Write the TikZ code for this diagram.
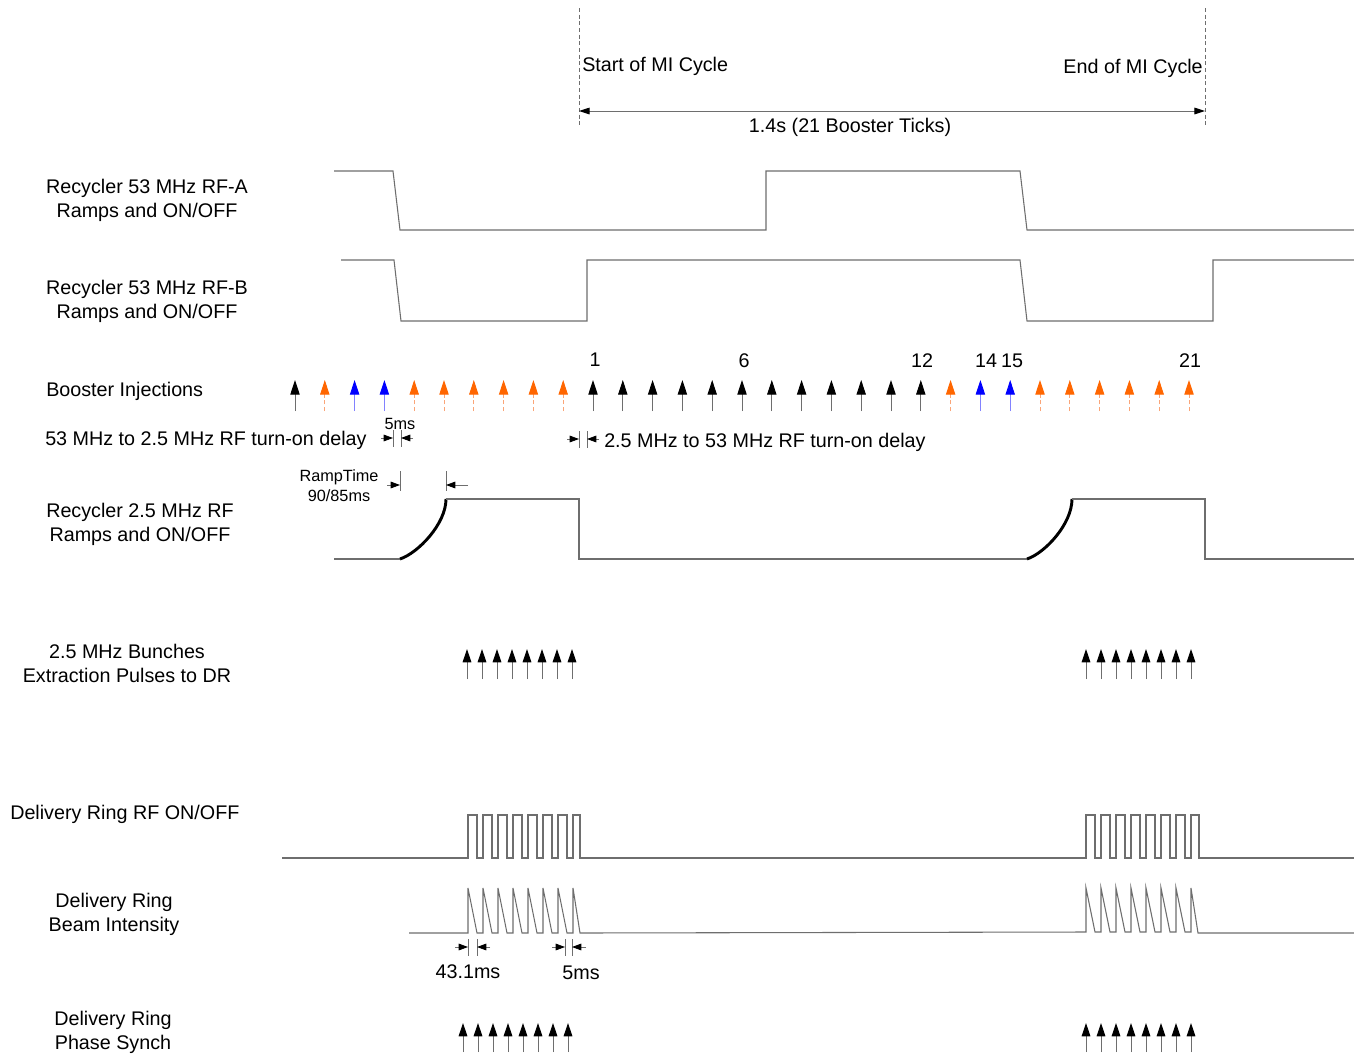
\documentclass[tikz,border=0pt]{standalone}
\usepackage{fontspec}
\setmainfont{Liberation Sans}
\usetikzlibrary{arrows.meta}
\definecolor{wavec}{RGB}{110,110,110}
\definecolor{inorange}{RGB}{255,102,0}
\definecolor{inorangel}{RGB}{250,165,120}
\definecolor{inblue}{RGB}{0,0,255}
\definecolor{inbluel}{RGB}{130,130,255}
\begin{document}
\begin{tikzpicture}[x=0.75pt,y=-0.75pt,
  lbl/.style={font=\fontsize{14.8}{18}\selectfont, align=center, inner sep=0pt, yshift=-1.5pt},
  sml/.style={font=\fontsize{12.2}{15}\selectfont, align=center, inner sep=0pt, yshift=-1pt},
  wave/.style={draw=wavec, line width=0.8pt},
  ramp/.style={draw=black, line width=2.2pt},
  guide/.style={draw=wavec, line width=0.6pt, dash pattern=on 3pt off 2pt},
  injk/.style={draw=wavec, line width=0.7pt, -{Triangle[black,length=11pt,width=7pt]}},
  injo/.style={draw=inorangel, line width=0.7pt, dash pattern=on 3pt off 2pt, -{Triangle[inorange,length=11pt,width=7pt,sep=0pt]}},
  injb/.style={draw=inbluel, line width=0.7pt, -{Triangle[inblue,length=11pt,width=7pt]}},
  pulsearr/.style={draw=wavec, line width=0.7pt, -{Triangle[black,length=10pt,width=6.5pt]}},
  dimarr/.style={draw=wavec, line width=0.6pt, -{Triangle[black,length=7pt,width=5pt]}},
  dimtick/.style={draw=wavec, line width=0.5pt}]
\useasboundingbox[fill=white] (0,0) rectangle (1354,1054);

% ---- MI cycle markers
\draw[guide] (579,8) coordinate (s0) -- (579,125) coordinate (s1);
\draw[guide] (1205,8) coordinate (e0) -- (1205,125) coordinate (e1);
\coordinate (ca) at (579,111);
\coordinate (cb) at (1205,111);
\draw[wave, line width=0.7pt, {Triangle[black,length=8pt,width=5pt]}-{Triangle[black,length=8pt,width=5pt]}] (ca) -- (cb);
\node[lbl, anchor=west] (start) at (582,64) {Start of MI Cycle};
\node[lbl, anchor=east] (end) at (1203,66) {End of MI Cycle};
\node[lbl] (dur) at (850,125) {1.4s (21 Booster Ticks)};

% ---- RF-A
\node[lbl] (rfa) at (147,198) {Recycler 53 MHz RF-A\\Ramps and ON/OFF};
\draw[wave] (334,171) -- (393,171) -- (400,230) -- (766,230) -- (766,171) -- (1020,171) -- (1027,230) -- (1354,230);

% ---- RF-B
\node[lbl] (rfb) at (147,299) {Recycler 53 MHz RF-B\\Ramps and ON/OFF};
\draw[wave] (341,260) -- (394,260) -- (401,321) -- (587,321) -- (587,260) -- (1020,260) -- (1027,321) -- (1213,321) -- (1213,260) -- (1354,260);

% ---- Booster injections
\node[lbl, anchor=west] (binj) at (46,389) {Booster Injections};
\foreach \i in {0,10,11,...,21}
  \draw[injk] ({295+29.8*\i},411) -- ({295+29.8*\i},380);
\foreach \i in {1,4,5,6,7,8,9,22,25,26,27,28,29,30}
  \draw[injo] ({295+29.8*\i},411) -- ({295+29.8*\i},380);
\foreach \i in {2,3,23,24}
  \draw[injb] ({295+29.8*\i},411) -- ({295+29.8*\i},380);
\node[lbl] (t1) at (595,358) {1};
\node[lbl] (t6) at (744,359) {6};
\node[lbl] (t12) at (922,359) {12};
\node[lbl] (t14) at (986,359) {14};
\node[lbl] (t15) at (1012,359) {15};
\node[lbl] (t21) at (1190,359) {21};

% ---- turn-on delays
\node[lbl, anchor=west] (d1) at (45,438) {53 MHz to 2.5 MHz RF turn-on delay};
\node[sml] (d1v) at (400,423) {5ms};
\draw[dimtick] (393,430) -- (393,447);
\draw[dimtick] (401,430) -- (401,447);
\draw[dimarr] (381,438) -- (393,438);
\draw[dimarr] (413,438) -- (401,438);
\node[lbl, anchor=west] (d2) at (604,440) {2.5 MHz to 53 MHz RF turn-on delay};
\draw[dimtick] (579,431) -- (579,448);
\draw[dimtick] (587,431) -- (587,448);
\draw[dimarr] (567,439) -- (579,439);
\draw[dimarr] (599,439) -- (587,439);

% ---- Ramp time
\node[sml] (rt) at (339,484) {RampTime\\90/85ms};
\draw[dimtick] (400,471) -- (400,491);
\draw[dimtick] (446,471) -- (446,491);
\draw[dimarr] (387,485) -- (400,485);
\draw[dimarr] (468,485) -- (446,485);

% ---- 2.5 MHz RF
\node[lbl] (rf25) at (140,522) {Recycler 2.5 MHz RF\\Ramps and ON/OFF};
\draw[wave] (334,559) -- (400,559);
\draw[ramp] (400,559) .. controls (418,553) and (446,524) .. (446,499);
\draw[wave] (446,499) -- (579,499) -- (579,559) -- (1027,559);
\draw[ramp] (1027,559) .. controls (1045,553) and (1072,524) .. (1072,499);
\draw[wave] (1072,499) -- (1205,499) -- (1205,559) -- (1354,559);

% ---- extraction pulses
\node[lbl] (bun) at (127,661) {2.5 MHz Bunches\\Extraction Pulses to DR};
\foreach \k in {0,...,7}{
  \draw[pulsearr] ({467+15*\k},679) -- ({467+15*\k},649);
  \draw[pulsearr] ({1086+15*\k},679) -- ({1086+15*\k},649);
}

% ---- Delivery ring RF ON/OFF
\node[lbl, anchor=west] (drrf) at (10,812) {Delivery Ring RF ON/OFF};
\draw[wave] (282,858) -- (468,858)
  \foreach \k in {0,...,6}{ -- ({468+15*\k},815) -- ({477+15*\k},815) -- ({477+15*\k},858) -- ({483+15*\k},858) }
  -- (573,815) -- (580,815) -- (580,858) -- (1086,858)
  \foreach \k in {0,...,6}{ -- ({1086+15*\k},815) -- ({1095+15*\k},815) -- ({1095+15*\k},858) -- ({1101+15*\k},858) }
  -- (1191,815) -- (1199,815) -- (1199,858) -- (1354,858);

% ---- Beam intensity
\node[lbl] (bi) at (114,912) {Delivery Ring\\Beam Intensity};
\draw[wave] (409,933) -- (468,933)
  \foreach \k in {0,...,6}{ -- ({468+15*\k},888) -- ({477+15*\k},933) -- ({483+15*\k},933) }
  -- (573,888) -- (580,933) -- (1086,932)
  \foreach \k in {0,...,6}{ -- ({1086+15*\k},888) -- ({1095+15*\k},932) -- ({1101+15*\k},932) }
  -- (1191,888) -- (1198,933) -- (1354,933);
\draw[dimtick] (468,939) -- (468,956);
\draw[dimtick] (477,939) -- (477,956);
\draw[dimarr] (455,947) -- (468,947);
\draw[dimarr] (490,947) -- (477,947);
\node[lbl] (v431) at (468,970) {43.1ms};
\draw[dimtick] (565,939) -- (565,956);
\draw[dimtick] (572,939) -- (572,956);
\draw[dimarr] (552,947) -- (565,947);
\draw[dimarr] (586,947) -- (572,947);
\node[lbl] (v5) at (581,971) {5ms};

% ---- Phase synch
\node[lbl] (ps) at (113,1030) {Delivery Ring\\Phase Synch};
\foreach \k in {0,...,7}{
  \draw[pulsearr] ({463+15*\k},1052) -- ({463+15*\k},1023);
  \draw[pulsearr] ({1086+15*\k},1052) -- ({1086+15*\k},1023);
}
\end{tikzpicture}
\end{document}
